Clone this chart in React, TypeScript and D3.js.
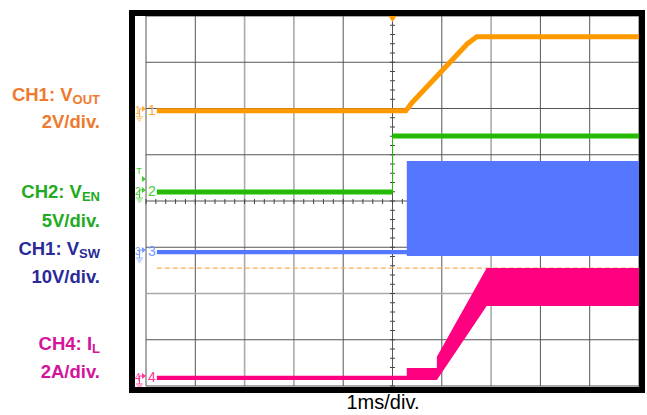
import { useRef, useEffect } from 'react';
import * as d3 from 'd3';

// time in ms (1ms/div), level in screen divisions from centre
const voutT = [-4.78, 0.27, 0.40, 1.52, 1.71, 5.0];
const voutDiv = [1.95, 1.95, 2.13, 3.40, 3.55, 3.55];

const venT = [-4.78, 0.0, 0.0, 5.0];
const venDiv = [0.195, 0.195, 1.405, 1.405];

const vswT = [-4.78, 0.29, 0.29, 5.0];
const vswHi = [-1.06, -1.06, 0.865, 0.865];
const vswLo = [-1.15, -1.15, -1.19, -1.19];

const ilT = [-4.78, 0.29, 0.29, 0.90, 0.90, 1.91, 5.0];
const ilHi = [-3.78, -3.78, -3.61, -3.61, -3.37, -1.45, -1.45];
const ilLo = [-3.87, -3.87, -3.87, -3.87, -3.87, -2.27, -2.27];

const limitDiv = -1.45;

const markerChannels = ['1', '2', '3', '4'];
const markerDiv = [1.95, 0.195, -1.103, -3.827];

const labelTexts = ['CH1: V', '2V/div.', 'CH2: V', '5V/div.', 'CH1: V', '10V/div.', 'CH4: I', '2A/div.'];
const labelSubs = ['OUT', '', 'EN', '', 'SW', '', 'L', ''];
const timeLabel = '1ms/div.';

const W = 647, H = 415;

export default function App() {
  const svgRef = useRef<SVGSVGElement | null>(null);

  useEffect(() => {
    if (!svgRef.current) return;
    const svg = d3.select(svgRef.current);
    svg.selectAll('*').remove();

    const x = d3.scaleLinear().domain([-5, 5]).range([146, 639]);
    const y = d3.scaleLinear().domain([-4, 4]).range([386, 16]);

    const orange = '#FF9900', green = '#22BB00', blue = '#5577FF', pink = '#FF0080';
    const labelColors = ['#EE7A2E', '#EE7A2E', '#22AA22', '#22AA22', '#2A2A99', '#2A2A99', '#D4149A', '#D4149A'];
    const labelY = [101, 128, 198, 227, 255, 283, 350, 378];
    const font = '"Liberation Sans", Arial, sans-serif';

    svg.append('rect').attr('width', W).attr('height', H).attr('fill', '#fff');

    // grid
    const lightV = [2, 3, 7];
    const lightH = [2];
    const g = svg.append('g');
    d3.range(-5, 6).forEach((d, i) => {
      g.append('line')
        .attr('x1', x(d)).attr('x2', x(d)).attr('y1', y(4)).attr('y2', y(-4))
        .attr('stroke', lightV.includes(i) ? '#aaa' : '#555')
        .attr('stroke-width', lightV.includes(i) ? 1.6 : 1);
    });
    d3.range(-4, 5).forEach((d, i) => {
      g.append('line')
        .attr('x1', x(-5)).attr('x2', x(5)).attr('y1', y(d)).attr('y2', y(d))
        .attr('stroke', lightH.includes(i) ? '#aaa' : '#555')
        .attr('stroke-width', lightH.includes(i) ? 1.6 : 1);
    });
    // centre axis minor ticks
    d3.range(-4, 4.01, 0.2).forEach(d => {
      g.append('line')
        .attr('x1', x(0) - 2.5).attr('x2', x(0) + 2.5).attr('y1', y(d)).attr('y2', y(d))
        .attr('stroke', '#444').attr('stroke-width', 1);
    });
    d3.range(-5, 5.01, 0.2).forEach(d => {
      g.append('line')
        .attr('x1', x(d)).attr('x2', x(d)).attr('y1', y(0) - 2).attr('y2', y(0) + 3)
        .attr('stroke', '#444').attr('stroke-width', 1);
    });

    // trigger level dashed line
    svg.append('line')
      .attr('x1', x(-4.78)).attr('x2', x(5)).attr('y1', y(limitDiv)).attr('y2', y(limitDiv))
      .attr('stroke', '#FFAA55').attr('stroke-width', 1.2).attr('stroke-dasharray', '5 3');

    // CH3 Vsw
    const vswArea = d3.area<number>()
      .x((_, i) => x(vswT[i]))
      .y0((_, i) => y(vswLo[i]))
      .y1((_, i) => y(vswHi[i]));
    svg.append('path').attr('d', vswArea(vswT)!).attr('fill', blue);

    // CH4 IL
    const ilArea = d3.area<number>()
      .x((_, i) => x(ilT[i]))
      .y0((_, i) => y(ilLo[i]))
      .y1((_, i) => y(ilHi[i]));
    svg.append('path').attr('d', ilArea(ilT)!).attr('fill', pink);

    // CH2 Ven
    svg.append('line')
      .attr('x1', x(venT[1])).attr('x2', x(venT[2])).attr('y1', y(venDiv[2])).attr('y2', y(venDiv[1]))
      .attr('stroke', green).attr('stroke-width', 1);
    [[0, 1], [2, 3]].forEach(([a, b]) => {
      svg.append('line')
        .attr('x1', x(venT[a])).attr('x2', x(venT[b])).attr('y1', y(venDiv[a])).attr('y2', y(venDiv[b]))
        .attr('stroke', green).attr('stroke-width', 5);
    });

    // CH1 Vout
    const voutLine = d3.line<number>()
      .x((_, i) => x(voutT[i]))
      .y(d => y(d));
    svg.append('path').attr('d', voutLine(voutDiv)!)
      .attr('fill', 'none').attr('stroke', orange).attr('stroke-width', 5);

    // trigger marker at top
    svg.append('path')
      .attr('d', `M${x(0) - 4},${y(4)} L${x(0) + 4},${y(4)} L${x(0)},${y(4) + 6} Z`)
      .attr('fill', orange);

    // channel markers
    const mLight = ['#FFAA33', '#44CC33', '#7799FF', '#FF3399'];
    markerChannels.forEach((c, i) => {
      const my = y(markerDiv[i]);
      const m = svg.append('g').attr('fill', mLight[i]).attr('stroke', mLight[i]);
      m.append('text').attr('x', 135).attr('y', my + 3).attr('font-size', 10)
        .attr('font-family', font).attr('stroke', 'none').text(c);
      m.append('line').attr('x1', 139.5).attr('x2', 139.5).attr('y1', my - 2).attr('y2', my + 6).attr('stroke-width', 1);
      m.append('line').attr('x1', 139.5).attr('x2', 142).attr('y1', my - 2).attr('y2', my - 2).attr('stroke-width', 1);
      m.append('path').attr('d', `M142,${my - 5} L146,${my - 2} L142,${my + 1} Z`).attr('stroke', 'none');
      [[3.5, 6], [2.5, 8], [1.2, 10]].forEach(([hw, dy]) => {
        m.append('line').attr('x1', 139.5 - hw).attr('x2', 139.5 + hw)
          .attr('y1', my + dy).attr('y2', my + dy).attr('stroke-width', 0.8);
      });
      m.append('text').attr('x', 148).attr('y', my + 4).attr('font-size', 14)
        .attr('font-family', font).attr('stroke', 'none').text(c);
      if (i === 1) {
        m.append('text').attr('x', 139).attr('y', my - 18).attr('font-size', 9)
          .attr('font-family', font).attr('text-anchor', 'middle').attr('stroke', 'none').text('T');
        m.append('path').attr('d', `M142,${my - 16} L146,${my - 13} L142,${my - 10} Z`).attr('stroke', 'none');
      }
    });

    // frame
    svg.append('rect')
      .attr('x', 132).attr('y', 13).attr('width', 510).attr('height', 377)
      .attr('fill', 'none').attr('stroke', '#000').attr('stroke-width', 6);

    // left labels
    labelTexts.forEach((t, i) => {
      const tx = svg.append('text')
        .attr('x', 100).attr('y', labelY[i])
        .attr('text-anchor', 'end')
        .attr('font-family', font).attr('font-weight', 'bold').attr('font-size', 18.5)
        .attr('fill', labelColors[i]);
      tx.append('tspan').text(t);
      if (labelSubs[i]) {
        tx.append('tspan').attr('font-size', 13).attr('dy', 3).text(labelSubs[i]);
      }
    });

    svg.append('text')
      .attr('x', 383).attr('y', 409)
      .attr('text-anchor', 'middle')
      .attr('font-family', font).attr('font-size', 20)
      .attr('fill', '#000')
      .text(timeLabel);
  }, []);

  return (
    <div style={{ position: 'absolute', left: 0, top: 0 }}>
      <svg ref={svgRef} width={W} height={H} style={{ display: 'block' }}></svg>
    </div>
  );
}
